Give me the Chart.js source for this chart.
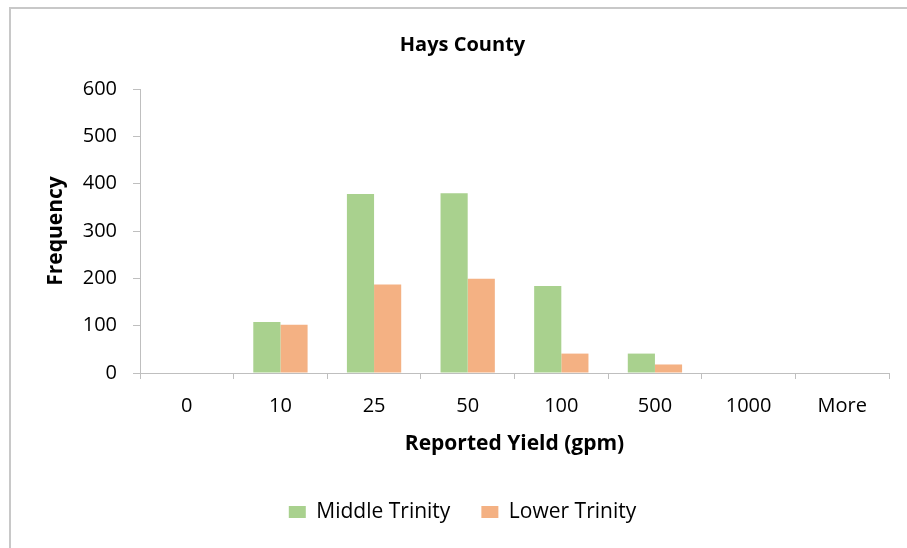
<!DOCTYPE html>
<html>
<head>
<meta charset="utf-8">
<script src="https://cdn.jsdelivr.net/npm/chart.js@4.4.1/dist/chart.umd.min.js"></script>
<style>
  html, body { margin: 0; padding: 0; background: #fff; }
  #wrap { position: relative; width: 907px; height: 548px; }
</style>
</head>
<body>
<div id="wrap"><canvas id="chart" width="907" height="548"></canvas></div>
<script>
// Well yield histogram, Hays County
const categories = ['0', '10', '25', '50', '100', '500', '1000', 'More'];
const middleTrinity = [0, 108, 378, 380, 184, 41, 0, 0];
const lowerTrinity = [0, 102, 187, 199, 41, 18, 0, 0];
const yTicks = [0, 100, 200, 300, 400, 500, 600];

const GREEN = '#a9d18e';
const ORANGE = '#f4b183';
const AXIS = '#bfbfbf';
const BASE_FONT = 'Open Sans';

// Light frame along the top and left edges of the chart box
const framePlugin = {
  id: 'frame',
  beforeDraw(chart) {
    const ctx = chart.ctx;
    ctx.save();
    ctx.fillStyle = '#ffffff';
    ctx.fillRect(0, 0, chart.width, chart.height);
    ctx.strokeStyle = '#c8c8c8';
    ctx.lineWidth = 2;
    ctx.beginPath();
    ctx.moveTo(10, chart.height);
    ctx.lineTo(10, 8);
    ctx.lineTo(chart.width, 8);
    ctx.stroke();
    ctx.restore();
  }
};

new Chart(document.getElementById('chart'), {
  type: 'bar',
  data: {
    labels: categories,
    datasets: [
      { label: 'Middle Trinity', data: middleTrinity, backgroundColor: GREEN,
        categoryPercentage: 0.58, barPercentage: 1.0 },
      { label: 'Lower Trinity', data: lowerTrinity, backgroundColor: ORANGE,
        categoryPercentage: 0.58, barPercentage: 1.0 }
    ]
  },
  options: {
    responsive: false,
    animation: false,
    layout: { padding: { left: 36, right: 18, top: 0, bottom: 15.5 } },
    plugins: {
      title: {
        display: true,
        text: 'Hays County',
        color: '#000',
        font: { family: BASE_FONT, size: 20, weight: 'bold' },
        padding: { top: 33, bottom: 32 }
      },
      legend: {
        position: 'bottom',
        labels: {
          color: '#000',
          font: { family: BASE_FONT, size: 21 },
          boxWidth: 17,
          boxHeight: 12,
          padding: 31
        }
      },
      tooltip: { enabled: false }
    },
    scales: {
      x: {
        offset: true,
        grid: {
          offset: true,
          drawOnChartArea: false,
          drawTicks: true,
          tickLength: 6,
          color: AXIS
        },
        border: { color: AXIS, width: 1 },
        ticks: {
          color: '#000',
          font: { family: BASE_FONT, size: 20 },
          padding: 15,
          maxRotation: 0
        },
        title: {
          display: true,
          text: 'Reported Yield (gpm)',
          color: '#000',
          font: { family: BASE_FONT, size: 21, weight: 'bold' },
          padding: { top: 0, bottom: 13.5 }
        },
        afterFit(scale) { scale.height = 97.5; }
      },
      y: {
        min: yTicks[0],
        max: yTicks[yTicks.length - 1],
        grid: {
          drawOnChartArea: false,
          drawTicks: true,
          tickLength: 7,
          color: AXIS
        },
        border: { color: AXIS, width: 1 },
        ticks: {
          stepSize: 50,
          color: '#000',
          font: { family: BASE_FONT, size: 20 },
          padding: 16,
          callback: (v) => (yTicks.includes(v) ? String(v) : '')
        },
        title: {
          display: true,
          text: 'Frequency',
          color: '#000',
          font: { family: BASE_FONT, size: 21, weight: 'bold' },
          padding: { top: 7, bottom: 0 }
        },
        afterFit(scale) { scale.width = 104; }
      }
    }
  },
  plugins: [framePlugin]
});
</script>
</body>
</html>
